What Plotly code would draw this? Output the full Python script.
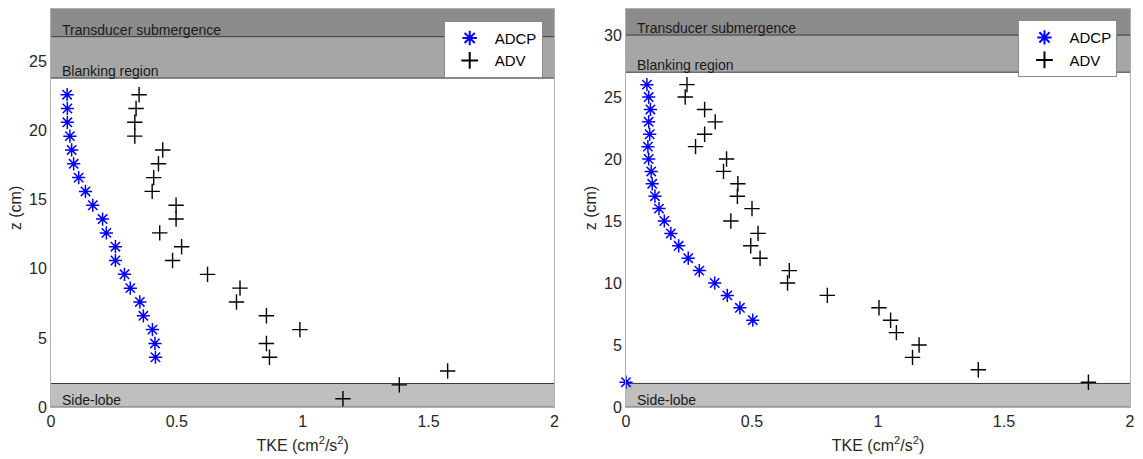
import plotly.graph_objects as go

# ---------------- data ----------------
# Left panel
left_adcp_z = [3.6, 4.6, 5.6, 6.6, 7.6, 8.6, 9.6, 10.6, 11.6, 12.6, 13.6, 14.6, 15.6,
               16.6, 17.6, 18.6, 19.6, 20.6, 21.6, 22.6]
left_adcp_tke = [0.415, 0.413, 0.403, 0.367, 0.353, 0.315, 0.292, 0.256, 0.256, 0.220,
                 0.205, 0.166, 0.137, 0.110, 0.090, 0.082, 0.075, 0.065, 0.065, 0.064]
left_adv_z = [0.6, 1.6, 2.6, 3.6, 4.6, 5.6, 6.6, 7.6, 8.6, 9.6, 10.6, 11.6, 12.6, 13.6,
              14.6, 15.6, 16.6, 17.6, 18.6, 19.6, 20.6, 21.6, 22.6]
left_adv_tke = [1.16, 1.384, 1.576, 0.868, 0.856, 0.989, 0.856, 0.737, 0.751, 0.622,
                0.483, 0.519, 0.432, 0.497, 0.497, 0.402, 0.408, 0.427, 0.444, 0.333,
                0.333, 0.338, 0.350]

# Right panel
right_adcp_z = [2, 7, 8, 9, 10, 11, 12, 13, 14, 15, 16, 17, 18, 19, 20, 21, 22, 23, 24, 25, 26]
right_adcp_tke = [0.0, 0.503, 0.452, 0.402, 0.352, 0.291, 0.247, 0.209, 0.178, 0.152, 0.131,
                  0.115, 0.104, 0.100, 0.090, 0.087, 0.094, 0.090, 0.097, 0.090, 0.083]
right_adv_z = [2, 3, 4, 5, 6, 7, 8, 9, 10, 11, 12, 13, 14, 15, 16, 17, 18, 19, 20, 21, 22,
               23, 24, 25, 26]
right_adv_tke = [1.835, 1.398, 1.137, 1.163, 1.073, 1.050, 1.004, 0.799, 0.641, 0.648, 0.532,
                 0.495, 0.524, 0.416, 0.500, 0.442, 0.444, 0.387, 0.399, 0.276, 0.312,
                 0.354, 0.312, 0.235, 0.242]

# region boundaries (z, cm): [side-lobe top, blanking bottom, transducer bottom, top]
left_regions = [1.7, 23.8, 26.8, 28.8]
right_regions = [1.9, 27.0, 30.0, 32.1]

x_ticks = [0, 0.5, 1, 1.5, 2]
x_tick_labels = ["0", "0.5", "1", "1.5", "2"]
left_y_ticks = [0, 5, 10, 15, 20, 25]
right_y_ticks = [0, 5, 10, 15, 20, 25, 30]

region_labels = ["Transducer submergence", "Blanking region", "Side-lobe"]

FONT = "Liberation Sans, Arial, Helvetica, sans-serif"
TXT = "#262626"
C_TRANS = "#8c8c8c"
C_BLANK = "#a6a6a6"
C_SIDE = "#bfbfbf"
C_EDGE = "#3a3a3a"

fig = go.Figure()

def add_traces(adcp_x, adcp_z, adv_x, adv_z, xa, ya, legend):
    fig.add_trace(go.Scatter(
        x=adcp_x, y=adcp_z, mode="markers", name="ADCP",
        marker=dict(symbol="asterisk-open", size=11, color="#0000ff",
                    line=dict(color="#0000ff", width=1.5)),
        xaxis=xa, yaxis=ya, legend=legend, cliponaxis=False))
    fig.add_trace(go.Scatter(
        x=adv_x, y=adv_z, mode="markers", name="ADV",
        marker=dict(symbol="cross-thin-open", size=11, color="#000000",
                    line=dict(color="#000000", width=1.4)),
        xaxis=xa, yaxis=ya, legend=legend, cliponaxis=False))

add_traces(left_adcp_tke, left_adcp_z, left_adv_tke, left_adv_z, "x", "y", "legend")
add_traces(right_adcp_tke, right_adcp_z, right_adv_tke, right_adv_z, "x2", "y2", "legend2")

shapes = []
annotations = []
for xref, yref, reg in [("x", "y", left_regions), ("x2", "y2", right_regions)]:
    side, blank, trans, top = reg
    # filled regions
    for y0, y1, col in [(trans, top, C_TRANS), (blank, trans, C_BLANK), (0, side, C_SIDE)]:
        shapes.append(dict(type="rect", xref=xref, yref=yref, x0=0, x1=2, y0=y0, y1=y1,
                           fillcolor=col, line=dict(width=0), layer="below"))
    # boundary lines
    for yv in [trans, blank, side, 0]:
        shapes.append(dict(type="line", xref=xref, yref=yref, x0=0, x1=2, y0=yv, y1=yv,
                           line=dict(color=C_EDGE if yv != 0 else "#6e6e6e", width=1),
                           layer="below"))
    # labels
    for text, yv in [(region_labels[0], trans), (region_labels[1], blank), (region_labels[2], 0)]:
        annotations.append(dict(text=text, xref=xref, yref=yref, x=0.04, y=yv,
                                xanchor="left", yanchor="bottom", showarrow=False,
                                font=dict(family=FONT, size=14, color="#1a1a1a"),
                                borderpad=0, yshift=-2))

axis_common = dict(showgrid=False, zeroline=False, showline=True, mirror=True,
                   linecolor="#b0b0b0", linewidth=1, ticks="", automargin=False,
                   tickfont=dict(family=FONT, size=16, color=TXT))

x_title = dict(text="TKE (cm<sup>2</sup>/s<sup>2</sup>)", standoff=10,
               font=dict(family=FONT, size=16, color=TXT))
y_title = dict(text="z (cm)", standoff=3, font=dict(family=FONT, size=16, color=TXT))

legend_common = dict(xanchor="right", yanchor="top", bgcolor="white",
                     bordercolor="#8a8a8a", borderwidth=1, itemwidth=40,
                     font=dict(family=FONT, size=15, color="#000000"),
                     itemsizing="constant")

fig.update_layout(
    width=1143, height=459,
    margin=dict(l=51, r=13, t=9, b=52),
    paper_bgcolor="white", plot_bgcolor="white",
    font=dict(family=FONT, color=TXT),
    shapes=shapes, annotations=annotations,
    xaxis=dict(domain=[0, 0.4665], range=[0, 2], tickvals=x_ticks, ticktext=x_tick_labels,
               title=x_title, anchor="y", **axis_common),
    yaxis=dict(domain=[0, 1], range=[0, left_regions[3]], tickvals=left_y_ticks,
               title=y_title, anchor="x", **axis_common),
    xaxis2=dict(domain=[0.5329, 1], range=[0, 2], tickvals=x_ticks, ticktext=x_tick_labels,
                title=x_title, anchor="y2", **axis_common),
    yaxis2=dict(domain=[0, 1], range=[0, right_regions[3]], tickvals=right_y_ticks,
                title=y_title, anchor="x2", **axis_common),
    legend=dict(x=0.4557, y=0.9706, **legend_common),
    legend2=dict(x=0.9884, y=0.972, **legend_common),
)

fig.write_html("out.html", config={"displayModeBar": False},
               post_script="document.body.style.margin='0px';")
